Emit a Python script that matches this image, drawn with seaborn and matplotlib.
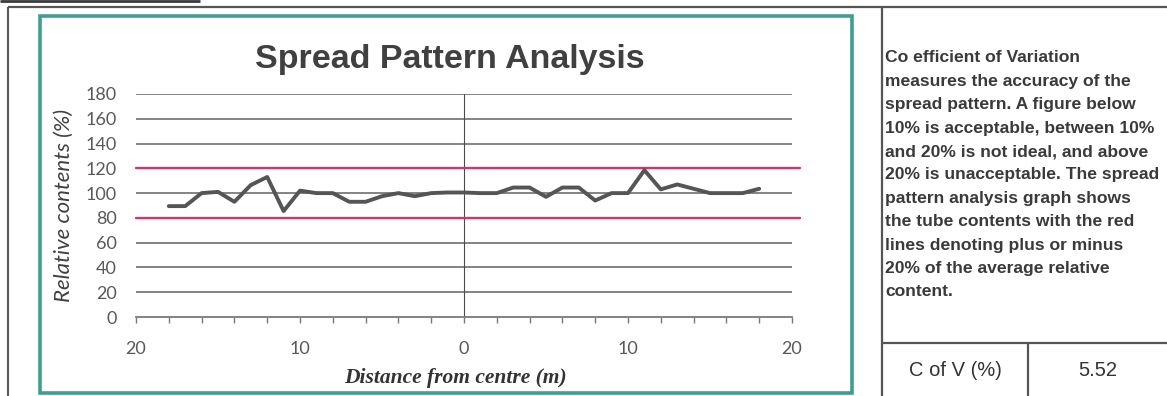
import matplotlib
matplotlib.use("Agg")
import matplotlib.pyplot as plt
from matplotlib.lines import Line2D
from matplotlib.patches import Rectangle
from matplotlib.ticker import FixedLocator, FixedFormatter
import seaborn as sns
import pandas as pd

# Tube positions across the swath (m, negative = left of centre) and relative contents (%)
distance = [-18, -17, -16, -15, -14, -13, -12, -11, -10, -9, -8, -7, -6, -5, -4, -3, -2, -1, 0,
            1, 2, 3, 4, 5, 6, 7, 8, 9, 10, 11, 12, 13, 14, 15, 16, 17, 18]
contents = [89.5, 89.5, 100, 101, 93, 106.5, 113, 85.5, 102, 100, 100, 93, 93, 97.5, 100, 97.5, 100, 100.5, 100.5,
            100, 100, 104.5, 104.5, 97, 104.5, 104.5, 94, 100, 100, 118.5, 103, 107, 103.5, 100, 100, 100, 103.5]

# +/- 20 % limits of the average relative content
limit_values = [80, 120]
limit_span = [-20, 20.5]

y_ticks = [0, 20, 40, 60, 80, 100, 120, 140, 160, 180]
x_label_ticks = [-20, -10, 0, 10, 20]
x_tick_labels = ["20", "10", "0", "10", "20"]

cov_label = "C of V (%)"
cov_value = "5.52"
note_lines = [
    "Co efficient of Variation",
    "measures the accuracy of the",
    "spread pattern. A figure below",
    "10% is acceptable, between 10%",
    "and 20% is not ideal, and above",
    "20% is unacceptable. The spread",
    "pattern analysis graph shows",
    "the tube contents with the red",
    "lines denoting plus or minus",
    "20% of the average relative",
    "content.",
]

sns.set_theme(style="white")
plt.rcParams["font.family"] = ["Lato", "DejaVu Sans"]

W, H = 1167, 396
fig = plt.figure(figsize=(W / 100, H / 100), dpi=100)
fig.patch.set_facecolor("white")


def fx(px):
    return px / W


def fy(py):
    return 1 - py / H


def fig_line(x0, y0, x1, y1, color, lw):
    fig.add_artist(Line2D([fx(x0), fx(x1)], [fy(y0), fy(y1)], transform=fig.transFigure,
                          color=color, lw=lw, solid_capstyle="butt"))


# page / table rules
fig_line(0, 1, 200, 1, "#3a3a3a", 2.0)
fig_line(8, 7, W, 7, "#555555", 1.6)
fig_line(8, 7, 8, H, "#5a5a5a", 1.5)
fig_line(882, 7, 882, H, "#555555", 1.6)
fig_line(882, 343, W, 343, "#555555", 1.6)
fig_line(1028, 343, 1028, H, "#555555", 1.6)

# teal chart frame
fig.add_artist(Rectangle((fx(40), fy(393)), fx(852) - fx(40), fy(16) - fy(393),
                         transform=fig.transFigure, fill=False, ec="#3f9e90", lw=2.6))

ax = fig.add_axes([fx(136), fy(317), fx(792) - fx(136), fy(94) - fy(317)])
ax.set_facecolor("white")

df = pd.DataFrame({"distance": distance, "contents": contents})

ax.set_xlim(-20, 20)
ax.set_ylim(0, 180)

# horizontal gridlines
for v in y_ticks[1:]:
    ax.axhline(v, color="#7a7a7a", lw=1.3, zorder=1)
ax.axvline(0, color="#4a4a4a", lw=0.8, zorder=1)

# limit lines
for v in limit_values:
    ax.plot(limit_span, [v, v], color="#d6336b", lw=1.7, zorder=2, clip_on=False)

sns.lineplot(data=df, x="distance", y="contents", ax=ax, color="#555555", lw=2.8,
             zorder=3, legend=False)

for s in ["top", "right", "left"]:
    ax.spines[s].set_visible(False)
ax.spines["bottom"].set_color("#7a7a7a")
ax.spines["bottom"].set_linewidth(1.3)

ax.set_yticks(y_ticks)
ax.tick_params(axis="y", length=0, pad=14, labelsize=13, labelcolor="#595959")
ax.xaxis.set_major_locator(FixedLocator(x_label_ticks))
ax.xaxis.set_major_formatter(FixedFormatter(x_tick_labels))
ax.xaxis.set_minor_locator(FixedLocator(list(range(-20, 21, 2))))
ax.tick_params(axis="x", which="both", bottom=True, direction="out", length=4,
               width=1, color="#7a7a7a")
ax.tick_params(axis="x", which="major", pad=13, labelsize=13, labelcolor="#595959")

ax.set_xlabel("")
ax.set_ylabel("Relative contents (%)", fontsize=16, style="italic", color="#404040",
              labelpad=8)

fig.text(fx(455), fy(378), "Distance from centre (m)", ha="center", va="center",
         fontsize=15.5, family=["Liberation Serif"], style="italic", weight="bold",
         color="#333333")

fig.text(fx(450), fy(68), "Spread Pattern Analysis", ha="center", va="baseline",
         fontsize=24.5, family=["Liberation Sans"], weight="bold", color="#404040")

for i, line in enumerate(note_lines):
    fig.text(fx(885), fy(58 + 23.4 * i), line, ha="left", va="center", fontsize=12.6,
             family=["Liberation Sans"], weight="bold", color="#3a3a3a")

fig.text(fx(955), fy(370), cov_label, ha="center", va="center", fontsize=14.5,
         family=["Liberation Sans"], color="#333333")
fig.text(fx(1098), fy(370), cov_value, ha="center", va="center", fontsize=14.5,
         family=["Liberation Sans"], color="#333333")

fig.savefig("out.png", dpi=100, facecolor="white")
